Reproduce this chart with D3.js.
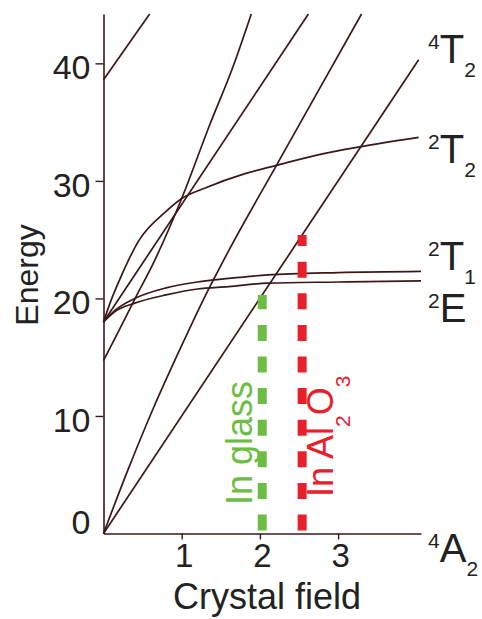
<!DOCTYPE html>
<html>
<head>
<meta charset="utf-8">
<script src="https://cdn.jsdelivr.net/npm/d3@7"></script>
<style>
  html, body { margin: 0; padding: 0; background: #fff; }
  svg { display: block; font-family: "Liberation Sans", Arial, sans-serif; }
</style>
</head>
<body>
<div id="chart"></div>
<script>
// Niveaux d'énergie : [champ cristallin, énergie]
const level4T2  = [[0, 0], [4.03, 40.3]];
const level4T1F = [[0, 0], [0.3, 5.2], [0.64, 10.7], [1.0, 16.0], [1.27, 19.8], [1.62, 24.3], [2.21, 31.3], [2.75, 37.7], [3.3, 44.2]];
const level4T1P = [[0, 14.7], [0.2, 17.3], [0.42, 20.2], [0.63, 22.9], [1.0, 28.5], [1.36, 34.8], [1.65, 39.6], [1.89, 44.2]];
const level2A1  = [[0, 18], [2.62, 44.2]];
const level2T2  = [[0, 18], [0.1, 19.9], [0.2, 21.5], [0.45, 24.9], [0.8, 27.4], [1.0, 28.5], [1.3, 29.4], [1.8, 30.6], [2.2, 31.3], [2.8, 32.3], [3.28, 32.9], [4.03, 33.7]];
const level2T1  = [[0, 18], [0.15, 19.0], [0.4, 20.0], [0.8, 20.9], [1.2, 21.4], [1.6, 21.7], [2.1, 22.0], [3.0, 22.2], [4.06, 22.3]];
const level2E   = [[0, 18], [0.15, 18.9], [0.4, 19.6], [0.8, 20.3], [1.2, 20.8], [1.6, 21.0], [2.1, 21.3], [3.0, 21.4], [4.06, 21.5]];
const levelHigh = [[0, 38.6], [0.59, 44.2]];

const levels = [level4T2, level4T1F, level4T1P, level2A1, level2T2, level2T1, level2E, levelHigh];

const xTicks = [1, 2, 3];
const yTicks = [0, 10, 20, 30, 40];
const xMax = 4.06;
const yMax = 44.2;

// Champ cristallin de Cr3+ dans chaque matrice (traits pointillés)
const hostLabels = ['In glass', 'In Al2O3'];
const hostFields = [2.03, 2.54];

// Étiquettes des états à droite : [exposant, lettre, indice]
const stateLabels = [['4', 'T', '2'], ['2', 'T', '2'], ['2', 'T', '1'], ['2', 'E', ''], ['4', 'A', '2']];

const width = 482;
const height = 619;
const lineColor = '#3b1818';

const svg = d3.select('#chart')
    .append('svg')
    .attr('width', width)
    .attr('height', height);

// Échelles
const x = d3.scaleLinear().domain([0, xMax]).range([103.5, 421]);
const y = d3.scaleLinear().domain([0, yMax]).range([533.5, 14]);

// Axes
const yAxis = svg.append('g')
    .attr('transform', `translate(${x(0)},0)`)
    .call(d3.axisLeft(y).tickValues(yTicks).tickFormat(d3.format('d'))
        .tickSize(8).tickPadding(5).tickSizeOuter(0));

const xAxis = svg.append('g')
    .attr('transform', `translate(0,${y(0)})`)
    .call(d3.axisBottom(x).tickValues(xTicks).tickFormat(d3.format('d'))
        .tickSize(6).tickPadding(4).tickSizeOuter(0));

[yAxis, xAxis].forEach(ax => {
    ax.select('.domain').attr('stroke', lineColor).attr('stroke-width', 1.6);
    ax.selectAll('.tick line').attr('stroke', lineColor).attr('stroke-width', 1.4);
    ax.selectAll('.tick text')
        .attr('fill', '#222')
        .style('font-size', '34px')
        .style('font-family', '"Liberation Sans", Arial, sans-serif');
});
yAxis.selectAll('.tick text').attr('dy', '0.45em');
yAxis.selectAll('.tick').filter(d => d === 0).select('line').remove();
yAxis.selectAll('.tick').filter(d => d === 0).select('text').attr('dy', '0em');
xAxis.selectAll('.tick text').attr('dx', 2).style('font-size', '33px');

svg.append('text')
    .attr('x', 267)
    .attr('y', 609)
    .attr('text-anchor', 'middle')
    .attr('fill', '#222')
    .style('font-size', '36px')
    .text('Crystal field');

svg.append('text')
    .attr('transform', 'translate(38,275) rotate(-90)')
    .attr('text-anchor', 'middle')
    .attr('fill', '#222')
    .style('font-size', '32px')
    .text('Energy');

// Courbes d'énergie
const line = d3.line()
    .x(d => x(d[0]))
    .y(d => y(d[1]))
    .curve(d3.curveMonotoneX);

svg.append('g')
    .selectAll('path')
    .data(levels)
    .enter()
    .append('path')
    .attr('d', line)
    .attr('fill', 'none')
    .attr('stroke', lineColor)
    .attr('stroke-width', 1.7);

// Traits pointillés jusqu'au niveau 4T2
const t2At = d3.scaleLinear().domain(level4T2.map(d => d[0])).range(level4T2.map(d => d[1]));
const hostColors = ['#6dbd45', '#e8202a'];

svg.append('g')
    .selectAll('line')
    .data(hostFields)
    .enter()
    .append('line')
    .attr('x1', d => x(d))
    .attr('x2', d => x(d))
    .attr('y1', y(0))
    .attr('y2', d => y(t2At(d)))
    .attr('stroke', (d, i) => hostColors[i])
    .attr('stroke-width', 9)
    .attr('stroke-dasharray', '16 15.6')
    .attr('stroke-dashoffset', 28.6);

// textes verticaux, chiffres en indice
const hostBase = [[252, 505], [333, 497]];
hostLabels.forEach((lab, i) => {
    const t = svg.append('text')
        .attr('transform', `translate(${hostBase[i][0]},${hostBase[i][1]}) rotate(-90)`)
        .attr('fill', hostColors[i])
        .style('font-size', '36px');
    lab.split(/(\d)/).filter(s => s).forEach(s => {
        if (/\d/.test(s)) {
            t.append('tspan').attr('dy', 17).style('font-size', '21px').text(s);
        } else {
            const ts = t.append('tspan').text(s);
            if (t.selectAll('tspan').size() > 1) ts.attr('dy', -17);
        }
    });
});

// Étiquettes des états
const stateBase = [63, 163, 270, 322, 562];
stateLabels.forEach((s, i) => {
    const t = svg.append('text')
        .attr('x', 428)
        .attr('y', stateBase[i])
        .attr('fill', '#222')
        .style('font-size', '40px');
    t.append('tspan').attr('dy', -14).style('font-size', '21px').text(s[0]);
    t.append('tspan').attr('dy', 14).text(s[1]);
    if (s[2]) t.append('tspan').attr('dy', 14).style('font-size', '21px').text(s[2]);
});
</script>
</body>
</html>
